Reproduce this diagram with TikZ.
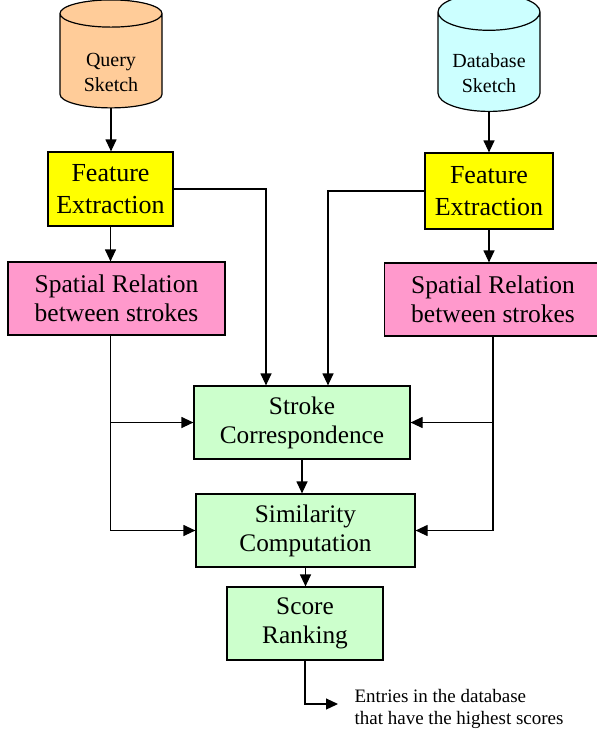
\documentclass[tikz,border=0pt]{standalone}
\usepackage{fontspec}
\setmainfont{Liberation Serif}
\usetikzlibrary{arrows.meta,positioning,calc,shapes.geometric}
\definecolor{queryfill}{HTML}{FFCC99}
\definecolor{dbfill}{HTML}{CCFFFF}
\definecolor{featfill}{HTML}{FFFF00}
\definecolor{spatfill}{HTML}{FF99CC}
\definecolor{matchfill}{HTML}{CCFFCC}
\tikzset{
  sketchdb/.style={cylinder,shape border rotate=90,draw,aspect=0.5,minimum width=102pt,minimum height=108pt,align=center,font=\fontsize{20}{25}\selectfont,inner sep=0pt},
  featbox/.style={rectangle,draw,fill=featfill,align=center,font=\fontsize{26}{32}\selectfont},
  spatbox/.style={rectangle,draw,fill=spatfill,align=center,minimum width=217pt,minimum height=73pt,font=\fontsize{25.5}{29}\selectfont},
  matchbox/.style={rectangle,draw,fill=matchfill,align=center,minimum height=73pt,font=\fontsize{25.3}{29}\selectfont}
}
\begin{document}
\begin{tikzpicture}[x=1pt,y=-1pt,>={Triangle[length=12pt,width=11pt]},line width=1.2pt]
 \useasboundingbox (0,0) rectangle (597,731);
 % inputs (empty first line pushes the text below the lid)
 \node[sketchdb,fill=queryfill] (qdb) at (111,61) {\mbox{}\\[12pt]Query\\Sketch};
 \node[sketchdb,fill=dbfill] (ddb) at (489,62) {\mbox{}\\[12pt]Database\\Sketch};
 \node[featbox,minimum width=125pt,minimum height=74pt] (feL) at (110.5,189) {Feature\\Extraction};
 \node[featbox,minimum width=128pt,minimum height=76pt] (feR) at (489,191) {Feature\\Extraction};
 \node[spatbox] (spL) at (116.5,298.5) {Spatial Relation\\between strokes};
 \node[spatbox] (spR) at (493,299.5) {Spatial Relation\\between strokes};
 % matching
 \node[matchbox,minimum width=216pt] (sc) at (302,422.5) {Stroke\\Correspondence};
 \node[matchbox,minimum width=219pt] (simc) at (305.5,530.5) {Similarity\\Computation};
 \node[matchbox,minimum width=156pt] (rank) at (305,623.5) {Score\\Ranking};
 \node[anchor=north west,align=left,inner sep=0pt,font=\fontsize{19}{22}\selectfont] (result) at (354,689) {Entries in the database\\that have the highest scores};
 \coordinate (out) at (338,704);
 % connectors
 \draw[->] (qdb.south) -- (qdb.south |- feL.north);
 \draw[->] (ddb.south) -- (ddb.south |- feR.north);
 \draw[->] (feL.south) -- (feL.south |- spL.north);
 \draw[->] (feR.south) -- (feR.south |- spR.north);
 \draw[->] (feL.east) -| ([xshift=-36pt]sc.north);
 \draw[->] (feR.west) -| ([xshift=26pt]sc.north);
 \draw[->] (feL.south |- spL.south) |- (simc.west);
 \draw[->] (feL.south |- sc.west) -- (sc.west);
 \draw[->] (spR.south) |- (simc.east);
 \draw[->] (spR.south |- sc.east) -- (sc.east);
 \draw[->] (sc.south) -- (sc.south |- simc.north);
 \draw[->] (simc.south) -- (simc.south |- rank.north);
 \draw[->] (rank.south) |- (out);
\end{tikzpicture}
\end{document}
